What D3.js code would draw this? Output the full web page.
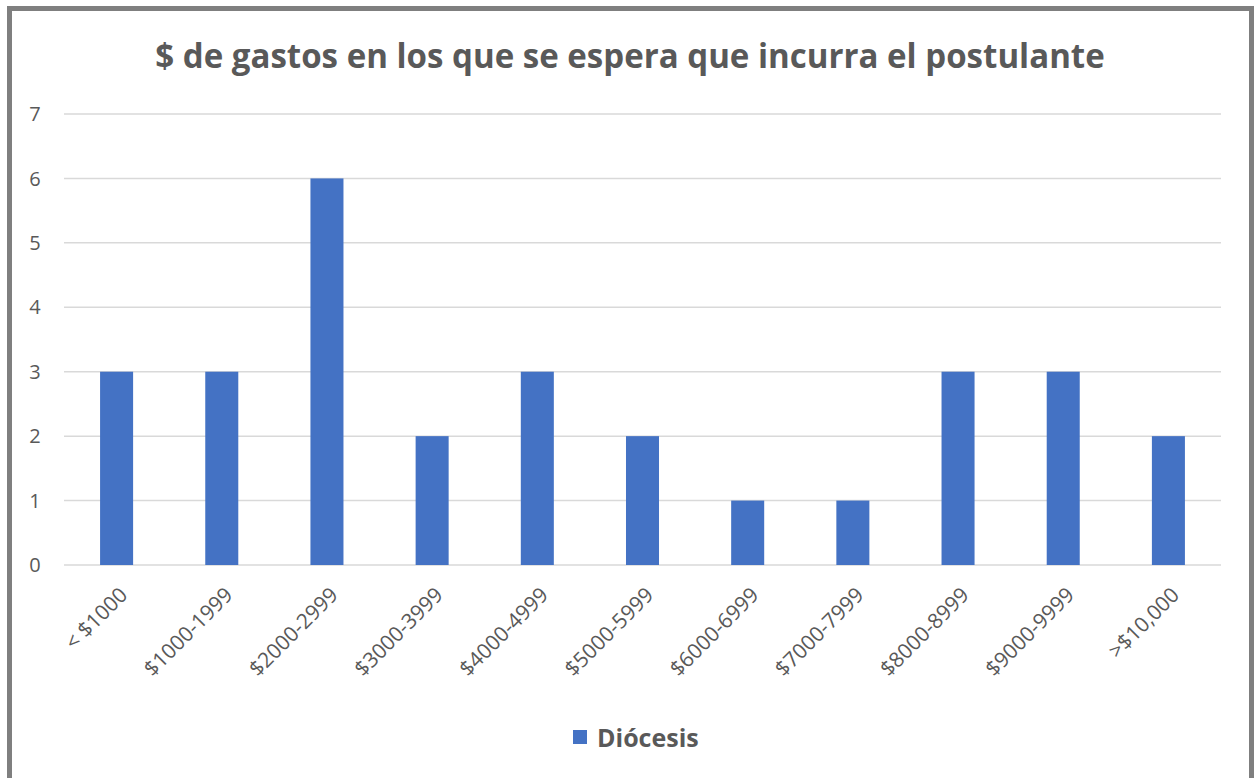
<!DOCTYPE html>
<html>
<head>
<meta charset="utf-8">
<script src="https://cdn.jsdelivr.net/npm/d3@7"></script>
<style>
  body { margin: 0; background: #fff; }
  text { font-family: "Open Sans", "Noto Sans", sans-serif; fill: #595959; }
</style>
</head>
<body>
<script>
var TITLE = "$ de gastos en los que se espera que incurra el postulante";
var SERIES_NAME = "Diócesis";
var CATEGORIES = ["< $1000", "$1000-1999", "$2000-2999", "$3000-3999", "$4000-4999",
  "$5000-5999", "$6000-6999", "$7000-7999", "$8000-8999", "$9000-9999", ">$10,000"];
var VALUES = [3, 3, 6, 2, 3, 2, 1, 1, 3, 3, 2];
var Y_TICKS = [0, 1, 2, 3, 4, 5, 6, 7];

var W = 1254, H = 778;
var plot = {left: 64, right: 1221, top: 114, bottom: 565};
var BAR_COLOR = "#4472c4";

var svg = d3.select("body").append("svg")
  .attr("width", W)
  .attr("height", H);

svg.append("rect")
  .attr("x", 9.5).attr("y", 8.5)
  .attr("width", W - 12).attr("height", H - 5)
  .attr("fill", "#fff")
  .attr("stroke", "#7f7f7f")
  .attr("stroke-width", 5);

var x = d3.scaleBand()
  .domain(CATEGORIES)
  .range([plot.left, plot.right])
  .paddingInner(0.686)
  .paddingOuter(0.343);

var y = d3.scaleLinear()
  .domain([0, 7])
  .range([plot.bottom, plot.top]);

// gridlines
svg.append("g").selectAll("line")
  .data(Y_TICKS)
  .join("line")
  .attr("x1", plot.left).attr("x2", plot.right)
  .attr("y1", function(d) { return y(d); })
  .attr("y2", function(d) { return y(d); })
  .attr("stroke", "#d9d9d9")
  .attr("stroke-width", 1.5);

// y labels
svg.append("g").selectAll("text")
  .data(Y_TICKS)
  .join("text")
  .attr("x", 35)
  .attr("y", function(d) { return y(d); })
  .attr("dy", "0.36em")
  .attr("text-anchor", "middle")
  .style("font-size", "20px")
  .text(function(d) { return d; });

// bars
svg.append("g").selectAll("rect")
  .data(VALUES)
  .join("rect")
  .attr("x", function(d, i) { return x(CATEGORIES[i]); })
  .attr("width", x.bandwidth())
  .attr("y", function(d) { return y(d); })
  .attr("height", function(d) { return y(0) - y(d); })
  .attr("fill", BAR_COLOR);

// x labels, rotated
svg.append("g").selectAll("text")
  .data(CATEGORIES)
  .join("text")
  .attr("transform", function(d) {
    var cx = x(d) + x.bandwidth() / 2 + 7;
    return "translate(" + cx + "," + (plot.bottom + 26) + ") rotate(-45)";
  })
  .attr("text-anchor", "end")
  .attr("dy", "0.35em")
  .style("font-size", "21px")
  .text(function(d) { return d; });

// title, sized to span like the reference
var title = svg.append("text")
  .attr("x", 630)
  .attr("y", 68)
  .attr("text-anchor", "middle")
  .style("font-weight", "bold")
  .style("font-size", "32px")
  .text(TITLE);
var tw = title.node().getComputedTextLength();
title.style("font-size", (32 * 950 / tw) + "px");

// legend
svg.append("rect")
  .attr("x", 573).attr("y", 730)
  .attr("width", 14).attr("height", 14)
  .attr("fill", BAR_COLOR);
svg.append("text")
  .attr("x", 597).attr("y", 747)
  .style("font-weight", "bold")
  .style("font-size", "25px")
  .text(SERIES_NAME);
</script>
</body>
</html>
